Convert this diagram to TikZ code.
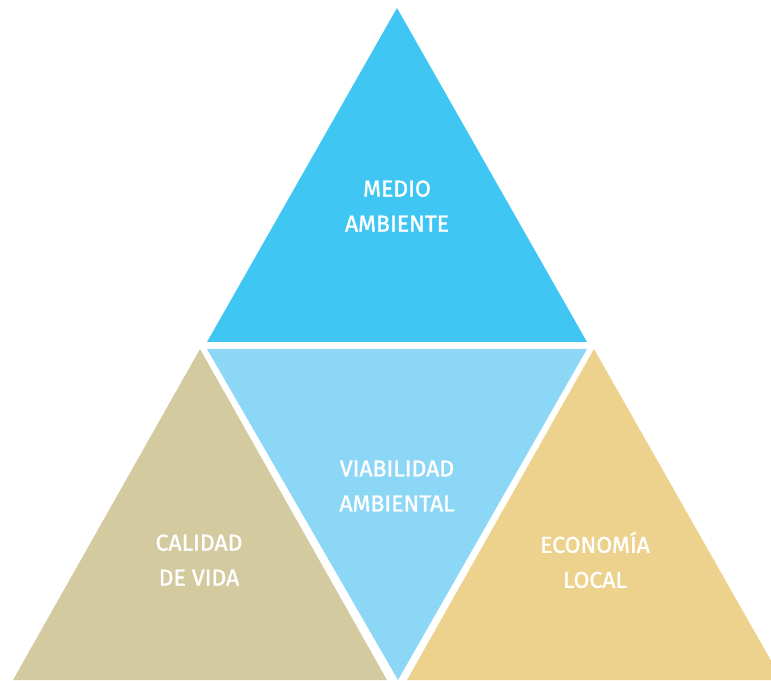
\documentclass[tikz,border=0pt]{standalone}
\usepackage{fontspec}
\setmainfont{Fira Sans}[FakeBold=1.3]
\definecolor{topblue}{RGB}{64,198,243}
\definecolor{midblue}{RGB}{141,215,246}
\definecolor{leftkhaki}{RGB}{211,202,160}
\definecolor{rightgold}{RGB}{236,210,140}
\begin{document}
\begin{tikzpicture}[x=1pt,y=1pt,
  lbl/.style={text=white,align=center,font=\fontsize{23}{35}\selectfont}]
\useasboundingbox (0,0) rectangle (771,680);
\clip (0,0) rectangle (771,680);
\fill[topblue] (397,672) -- (207,338) -- (587,338) -- cycle;
\fill[midblue] (207,331) -- (587,331) -- (398,0) -- cycle;
\fill[leftkhaki] (200,331) -- (13,0) -- (387,0) -- cycle;
\fill[rightgold] (594,331) -- (407,0) -- (782,0) -- cycle;
\node[lbl] (medio) at (397,474) {MEDIO\\AMBIENTE};
\node[lbl] (viab) at (397,194) {VIABILIDAD\\AMBIENTAL};
\node[lbl] (cal) at (199,120) {CALIDAD\\DE VIDA};
\node[lbl] (eco) at (595,120) {ECONOMÍA\\LOCAL};
\end{tikzpicture}
\end{document}
